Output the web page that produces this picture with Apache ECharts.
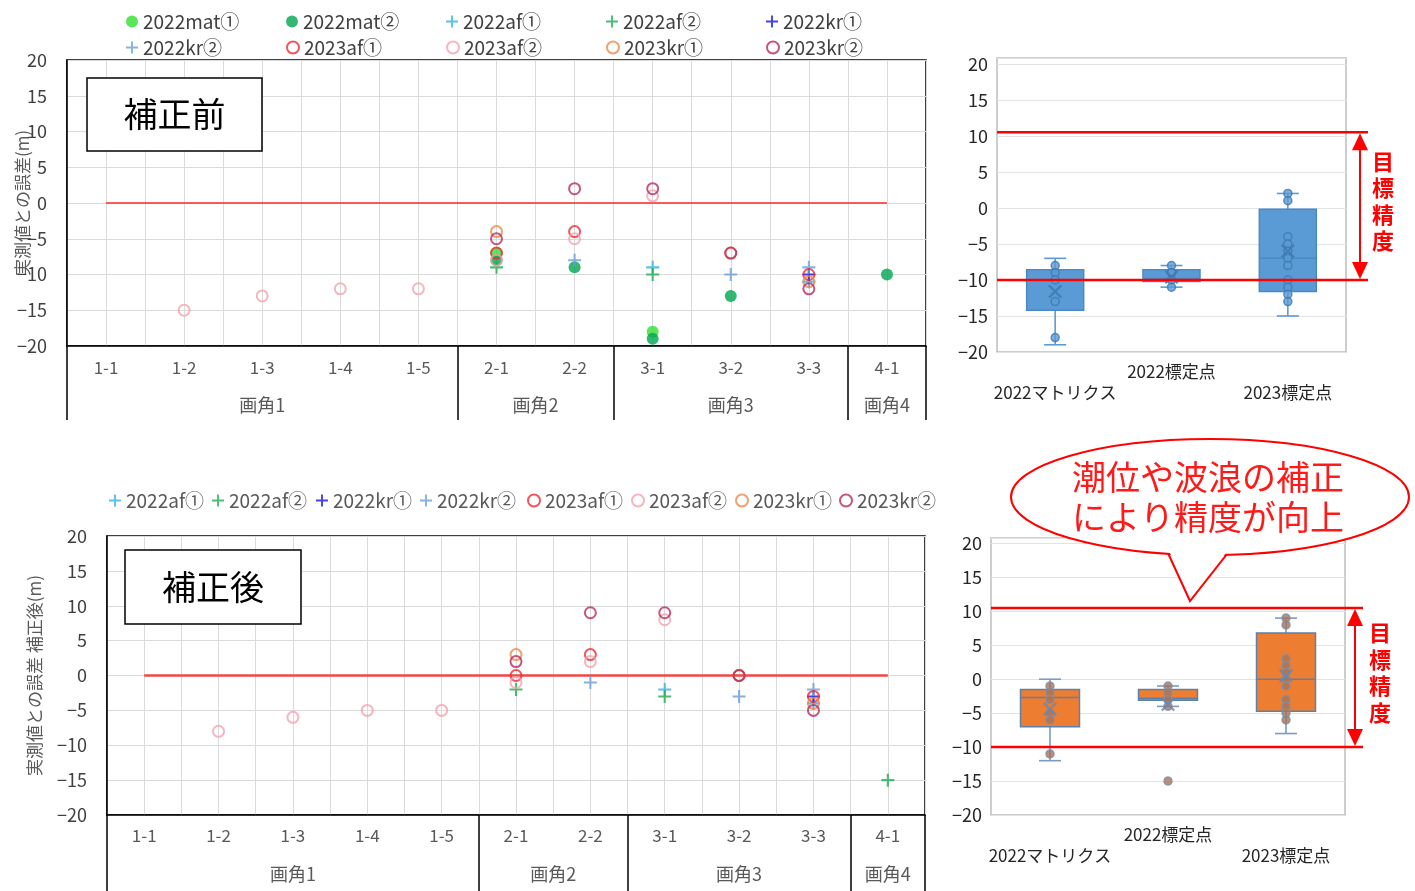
<!DOCTYPE html>
<html><head><meta charset="utf-8">
<script src="https://cdn.jsdelivr.net/npm/echarts@6/dist/echarts.min.js"></script>
<style>html,body{margin:0;padding:0;background:#fff}#c{width:1415px;height:891px}</style>
</head><body><div id="c"></div>
<script>
// ---------- data ----------
const categories = ['1-1','1-2','1-3','1-4','1-5','2-1','2-2','3-1','3-2','3-3','4-1'];
const groups = ['画角1','画角2','画角3','画角4'];
const groupSizes = [5,2,3,1];
const seriesNames = ['2022mat①','2022mat②','2022af①','2022af②','2022kr①','2022kr②','2023af①','2023af②','2023kr①','2023kr②'];
const n = null;
// 補正前
const before_2022mat1 = [n,n,n,n,n,-7,n,-18,n,n,n];
const before_2022mat2 = [n,n,n,n,n,-8,-9,-19,-13,n,-10];
const before_2022af1  = [n,n,n,n,n,n,n,-9,n,-11,n];
const before_2022af2  = [n,n,n,n,n,-9,n,-10,n,n,n];
const before_2022kr1  = [n,n,n,n,n,n,n,n,n,-10,n];
const before_2022kr2  = [n,n,n,n,n,n,-8,n,-10,-9,n];
const before_2023af1  = [n,n,n,n,n,-7,-4,n,n,-10,n];
const before_2023af2  = [n,-15,-13,-12,-12,-8,-5,1,n,n,n];
const before_2023kr1  = [n,n,n,n,n,-4,n,n,-7,-11,n];
const before_2023kr2  = [n,n,n,n,n,-5,2,2,-7,-12,n];
// 補正後
const after_2022af1 = [n,n,n,n,n,n,n,-2,n,-4,n];
const after_2022af2 = [n,n,n,n,n,-2,n,-3,n,n,-15];
const after_2022kr1 = [n,n,n,n,n,n,n,n,n,-3,n];
const after_2022kr2 = [n,n,n,n,n,n,-1,n,-3,-2,n];
const after_2023af1 = [n,n,n,n,n,0,3,n,0,-3,n];
const after_2023af2 = [n,-8,-6,-5,-5,-1,2,8,n,n,n];
const after_2023kr1 = [n,n,n,n,n,3,n,n,0,-4,n];
const after_2023kr2 = [n,n,n,n,n,2,9,9,0,-5,n];
const zeroLine = categories.map(() => 0);
// box charts: [min, Q1, median, Q3, max]
const boxCats = ['2022マトリクス','2022標定点','2023標定点'];
const boxBefore = [[-19,-14.2,-10,-8.6,-7],[-11,-10.2,-9.8,-8.6,-8],[-15,-11.6,-7,-0.2,2]];
const meanBefore = [-11.6,-9.6,-6];
const pointsBefore = [[-8,-9,-10,-13,-18],[-8,-9,-10,-11],[2,1,-4,-5,-6,-7,-8,-10,-11,-12,-13]];
const boxAfter = [[-12,-7,-2.7,-1.5,0],[-4,-3.1,-2.8,-1.5,-1],[-8,-4.7,0,6.8,9]];
const meanAfter = [-4.4,-3.7,0.5];
const pointsAfter = [[-1,-2,-3,-5,-6,-11],[-1,-2,-3,-4,-15],[9,8,3,2,1,0,-1,-3,-4,-5,-6]];
const targetUpper = 10.5, targetLower = -10;

// ---------- styles ----------
const FONT = '"Noto Sans CJK JP","Noto Sans",sans-serif';
const PLUS = 'path://M4.2,0h1.6v4.2h4.2v1.6h-4.2v4.2h-1.6v-4.2h-4.2v-1.6h4.2z';
const XMARK = 'path://M0,1.2L1.2,0L5,3.8L8.8,0L10,1.2L6.2,5L10,8.8L8.8,10L5,6.2L1.2,10L0,8.8L3.8,5Z';
const styleOf = {
  '2022mat①':{kind:'dot',color:'#2fe02f'},
  '2022mat②':{kind:'dot',color:'#00a651'},
  '2022af①':{kind:'plus',color:'#2fb0e6'},
  '2022af②':{kind:'plus',color:'#1caf50'},
  '2022kr①':{kind:'plus',color:'#1414e0'},
  '2022kr②':{kind:'plus',color:'#6a9fd8'},
  '2023af①':{kind:'ring',color:'#ee2a36'},
  '2023af②':{kind:'ring',color:'#f5a3ad'},
  '2023kr①':{kind:'ring',color:'#ee8a4a'},
  '2023kr②':{kind:'ring',color:'#b82a62'}
};
const beforeVals = {'2022mat①':before_2022mat1,'2022mat②':before_2022mat2,'2022af①':before_2022af1,'2022af②':before_2022af2,'2022kr①':before_2022kr1,'2022kr②':before_2022kr2,'2023af①':before_2023af1,'2023af②':before_2023af2,'2023kr①':before_2023kr1,'2023kr②':before_2023kr2};
const afterVals = {'2022af①':after_2022af1,'2022af②':after_2022af2,'2022kr①':after_2022kr1,'2022kr②':after_2022kr2,'2023af①':after_2023af1,'2023af②':after_2023af2,'2023kr①':after_2023kr1,'2023kr②':after_2023kr2};

const fmt = v => v < 0 ? '\u2212' + Math.abs(v) : String(v);
const bounds = [0]; groupSizes.forEach(s => bounds.push(bounds[bounds.length-1] + s));
const centers = groupSizes.map((s,i) => bounds[i] + s/2);
const catPos = categories.map((c,i) => i + 0.5);

const L = {
  g0:{left:67, top:60, width:859, height:286},
  g1:{left:997, top:58, width:349, height:294},
  g2:{left:107, top:536, width:818, height:279},
  g3:{left:991, top:538, width:354, height:277}
};

function catAxes(gi, catMargin, grpMargin, tickLen) {
  return [
    {type:'value', gridIndex:gi, min:0, max:categories.length, interval:0.5, position:'bottom',
     axisLine:{show:true, onZero:false, lineStyle:{color:'#000', width:1.5}},
     axisTick:{show:false},
     splitLine:{show:true, lineStyle:{color:'#dadada', width:1}},
     axisLabel:{customValues:catPos, formatter:v => categories[Math.round(v-0.5)], margin:catMargin,
       color:'#595959', fontSize:17, fontFamily:FONT}},
    {type:'value', gridIndex:gi, min:0, max:categories.length, position:'bottom',
     axisLine:{show:false, onZero:false}, splitLine:{show:false},
     axisTick:{show:true, inside:false, customValues:bounds, length:tickLen, lineStyle:{color:'#000', width:1.5}},
     axisLabel:{customValues:centers, formatter:v => groups[centers.indexOf(v)], margin:grpMargin,
       color:'#595959', fontSize:18, fontFamily:FONT}}
  ];
}
function scatterY(gi, name, nameGap) {
  return {type:'value', gridIndex:gi, min:-20, max:20, interval:5,
    axisLine:{show:true, onZero:false, lineStyle:{color:'#000', width:1.5}}, axisTick:{show:false},
    splitLine:{lineStyle:{color:'#dadada', width:1}},
    axisLabel:{formatter:fmt, color:'#404040', fontSize:18, margin:20, fontFamily:FONT},
    name:name, nameLocation:'middle', nameGap:nameGap, nameMoveOverlap:false,
    nameTextStyle:{color:'#595959', fontSize:17, fontFamily:FONT}};
}
function boxX(gi) {
  return {type:'category', gridIndex:gi, data:boxCats, axisLine:{show:false}, axisTick:{show:false},
    axisLabel:{interval:0, margin:11, formatter:(v,i) => i % 2 ? '{hi|'+v+'}' : '{lo|'+v+'}',
      rich:{hi:{fontSize:17, color:'#262626', fontFamily:FONT},
            lo:{fontSize:17, color:'#262626', fontFamily:FONT, padding:[21,0,0,0]}}}};
}
function boxY(gi) {
  return {type:'value', gridIndex:gi, min:-20, max:20.8, interval:5,
    axisLine:{show:false}, axisTick:{show:false},
    splitLine:{lineStyle:{color:'#e3e3e3', width:1.2}},
    axisLabel:{formatter:v => Math.abs(v % 5) < 1e-6 ? fmt(v) : '', margin:9, color:'#262626', fontSize:18, fontFamily:FONT}};
}
function scatterSeries(vals, xi, yi) {
  return Object.keys(vals).map(name => {
    const st = styleOf[name];
    const s = {name, type:'scatter', xAxisIndex:xi, yAxisIndex:yi, z:3,
      data: vals[name].map((v,i) => v === null ? null : [catPos[i], v]).filter(d => d)};
    if (st.kind === 'dot') { s.symbol='circle'; s.symbolSize=12; s.itemStyle={color:st.color}; }
    else if (st.kind === 'plus') { s.symbol=PLUS; s.symbolSize=13; s.itemStyle={color:st.color}; }
    else { s.symbol='circle'; s.symbolSize=11; s.itemStyle={color:'rgba(255,255,255,0)', borderColor:st.color, borderWidth:2}; }
    return s;
  });
}
function zeroSeries(xi, yi, color, width) {
  return {type:'line', xAxisIndex:xi, yAxisIndex:yi, data:zeroLine.map((v,i) => [catPos[i], v]),
    symbol:'none', lineStyle:{color, width}, z:2, silent:true};
}
function boxRenderer(st) {
  return function(params, api) {
    const i = api.value(0);
    const c = k => api.coord([i, api.value(k)]);
    const pMin=c(1), pQ1=c(2), pMed=c(3), pQ3=c(4), pMax=c(5);
    const cx = pMin[0];
    const bw = api.size([1,0])[0] * st.ratio;
    const cap = 11;
    const ls = {stroke:st.whisker, lineWidth:1.6};
    return {type:'group', children:[
      {type:'line', shape:{x1:cx,y1:pMax[1],x2:cx,y2:pMin[1]}, style:ls},
      {type:'line', shape:{x1:cx-cap,y1:pMax[1],x2:cx+cap,y2:pMax[1]}, style:ls},
      {type:'line', shape:{x1:cx-cap,y1:pMin[1],x2:cx+cap,y2:pMin[1]}, style:ls},
      {type:'rect', shape:{x:cx-bw/2,y:pQ3[1],width:bw,height:pQ1[1]-pQ3[1]}, style:{fill:st.fill, stroke:st.stroke, lineWidth:1.5}},
      {type:'line', shape:{x1:cx-bw/2,y1:pMed[1],x2:cx+bw/2,y2:pMed[1]}, style:{stroke:st.stroke, lineWidth:1.5}}
    ]};
  };
}
function boxSeries(box, mean, pts, xi, yi, st) {
  return [
    {type:'custom', xAxisIndex:xi, yAxisIndex:yi, renderItem:boxRenderer(st),
     data:box.map((b,i) => [i].concat(b)), encode:{x:0, y:[1,2,3,4,5]}, z:2, silent:true},
    {type:'scatter', xAxisIndex:xi, yAxisIndex:yi, symbol:'circle', symbolSize:8, z:3,
     itemStyle:{color:st.ptFill, borderColor:st.ptStroke, borderWidth:1.5},
     data:pts.flatMap((arr,i) => arr.map(v => [i, v]))},
    {type:'scatter', xAxisIndex:xi, yAxisIndex:yi, symbol:XMARK, symbolSize:14, z:4,
     itemStyle:{color:st.meanColor}, data:mean.map((v,i) => [i, v])}
  ];
}

const chart = echarts.init(document.getElementById('c'));
// one legend component per item so the columns keep the reference spacing
function legendItem(name, left, top, color) {
  return {data:[name], left, top, itemWidth:12, itemHeight:12, padding:0, selectedMode:false,
    textStyle:{color, fontSize:19, fontFamily:FONT}};
}
const legends = [];
seriesNames.forEach((nm,i) => legends.push(legendItem(nm, 126 + 160*(i % 5), i < 5 ? 12 : 38, '#404040')));
const bottomLegendLeft = [109,212,316,420,527,631,735,839];
seriesNames.slice(2).forEach((nm,i) => legends.push(legendItem(nm, bottomLegendLeft[i], 491, '#595959')));

const gridBase = {show:true, containLabel:false, outerBoundsMode:'none'};
chart.setOption({
  animation:false,
  textStyle:{fontFamily:FONT},
  legend:legends,
  grid:[
    Object.assign({}, gridBase, {borderColor:'#000', borderWidth:1.5}, L.g0),
    Object.assign({}, gridBase, {borderColor:'#bdbdbd', borderWidth:1.5}, L.g1),
    Object.assign({}, gridBase, {borderColor:'#000', borderWidth:1.5}, L.g2),
    Object.assign({}, gridBase, {borderColor:'#bdbdbd', borderWidth:1.5}, L.g3)
  ],
  xAxis:[].concat(catAxes(0,13,50,74), [boxX(1)], catAxes(2,12,50,76), [boxX(3)]),
  yAxis:[scatterY(0,'実測値との誤差(m)',36), boxY(1), scatterY(2,'実測値との誤差 補正後(m)',64), boxY(3)],
  series:[].concat(
    [zeroSeries(0,0,'#ff2a2a',1.6)],
    scatterSeries(beforeVals,0,0),
    boxSeries(boxBefore, meanBefore, pointsBefore, 2, 1,
      {fill:'#5b9bd5', stroke:'#4a88c6', whisker:'#5b9bd5', ratio:0.49, ptFill:'#5b9bd5', ptStroke:'#3d78b2', meanColor:'#3d78b2'}),
    [zeroSeries(3,2,'#f04848',2.5)],
    scatterSeries(afterVals,3,2),
    boxSeries(boxAfter, meanAfter, pointsAfter, 5, 3,
      {fill:'#ed7d31', stroke:'#5f80a8', whisker:'#7a9bc2', ratio:0.5, ptFill:'#a8735a', ptStroke:'#8090a4', meanColor:'#6a86ac'})
  )
});

// ---------- annotations ----------
function targetMarks(yi, g, arrowX, textX) {
  const yU = chart.convertToPixel({yAxisIndex:yi}, targetUpper);
  const yL = chart.convertToPixel({yAxisIndex:yi}, targetLower);
  const x0 = g.left, x1 = arrowX + 8;
  const red = '#ff0000';
  return [
    {type:'line', z:50, shape:{x1:x0,y1:yU,x2:x1,y2:yU}, style:{stroke:red, lineWidth:2.5}},
    {type:'line', z:50, shape:{x1:x0,y1:yL,x2:x1,y2:yL}, style:{stroke:red, lineWidth:2.5}},
    {type:'line', z:50, shape:{x1:arrowX,y1:yU+16,x2:arrowX,y2:yL-16}, style:{stroke:red, lineWidth:2}},
    {type:'polygon', z:50, shape:{points:[[arrowX,yU+1],[arrowX-8,yU+18],[arrowX+8,yU+18]]}, style:{fill:red}},
    {type:'polygon', z:50, shape:{points:[[arrowX,yL-1],[arrowX-8,yL-18],[arrowX+8,yL-18]]}, style:{fill:red}},
    {type:'text', z:50, x:textX, y:(yU+yL)/2 - 5, style:{text:'目\n標\n精\n度', fill:red, font:'bold 22px '+FONT, lineHeight:26.5, align:'center', verticalAlign:'middle'}}
  ];
}
const labelBox = (x,y,w,h,t) => [
  {type:'rect', z:60, shape:{x,y,width:w,height:h}, style:{fill:'#fff', stroke:'#000', lineWidth:1.5}},
  {type:'text', z:61, x:x+w/2, y:y+h/2, style:{text:t, fill:'#000', font:'34px '+FONT, align:'center', verticalAlign:'middle'}}
];
const bubble = [
  {type:'polygon', z:70, shape:{points:[[1162,540],[1190,601],[1238,540]]}, style:{fill:'#fff', stroke:'#ff0000', lineWidth:2}},
  {type:'ellipse', z:71, shape:{cx:1210, cy:497, rx:199, ry:58}, style:{fill:'#fff', stroke:'#ff0000', lineWidth:2}},
  {type:'polygon', z:72, shape:{points:[[1165,542],[1190,597],[1235,542]]}, style:{fill:'#fff'}},
  {type:'text', z:73, x:1208, y:497, style:{text:'潮位や波浪の補正\nにより精度が向上', fill:'#ff1a1a', font:'34px '+FONT, lineHeight:40, align:'center', verticalAlign:'middle'}}
];
chart.setOption({graphic:{elements:[].concat(
  targetMarks(1, L.g1, 1360, 1383),
  targetMarks(3, L.g3, 1355, 1380),
  labelBox(87,78,175,73,'補正前'),
  labelBox(125,550,176,74,'補正後'),
  bubble
)}});
</script>
</body></html>
